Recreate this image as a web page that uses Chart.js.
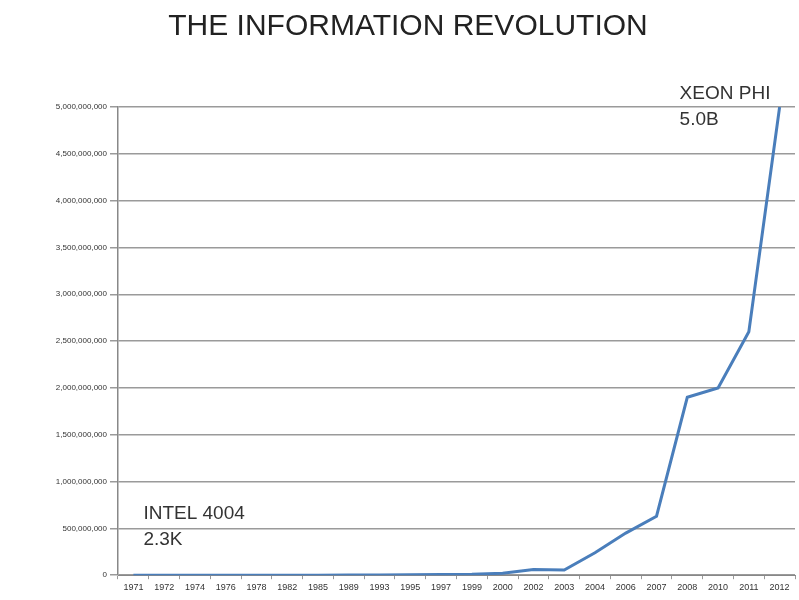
<!DOCTYPE html>
<html>
<head>
<meta charset="utf-8">
<script src="https://cdn.jsdelivr.net/npm/chart.js@4/dist/chart.umd.min.js"></script>
<style>
  body { margin: 0; background: #fff; }
  #wrap { width: 799px; height: 600px; }
</style>
</head>
<body>
<div id="wrap"><canvas id="transistorChart" width="799" height="600"></canvas></div>
<script>
const years = [
    '1971', '1972', '1974', '1976', '1978', '1982', '1985', '1989',
    '1993', '1995', '1997', '1999', '2000', '2002', '2003', '2004',
    '2006', '2007', '2008', '2010', '2011', '2012'
];

// transistor count per chip
const transistors = [
    2300, 3500, 4500, 6500, 29000, 134000, 275000, 1200000,
    3100000, 5500000, 7500000, 9500000, 20000000, 60000000, 55000000, 240000000,
    450000000, 630000000, 1900000000, 2000000000, 2600000000, 5000000000
];

const yTicks = {
    min: 0,
    max: 5000000000,
    step: 500000000
};

// callouts for the first and last chip
const callouts = [
    { index: 0, lines: ['INTEL 4004', '2.3K'], dx: 10, dy: -71 },
    { index: 21, lines: ['XEON PHI', '5.0B'], dx: -100, dy: -23 }
];

const calloutPlugin = {
    id: 'callouts',
    afterDatasetsDraw(chart) {
        const ctx = chart.ctx;
        const x = chart.scales.x;
        const y = chart.scales.y;
        ctx.save();
        ctx.font = '19px "Liberation Sans", Arial, sans-serif';
        ctx.fillStyle = '#333';
        ctx.textBaseline = 'top';
        ctx.textAlign = 'left';
        callouts.forEach(c => {
            const px = x.getPixelForValue(c.index) + c.dx;
            const py = y.getPixelForValue(transistors[c.index]) + c.dy;
            c.lines.forEach((t, i) => ctx.fillText(t, px, py + i * 26));
        });
        ctx.restore();
    }
};

const data = {
    labels: years,
    datasets: [{
        label: 'Transistors',
        data: transistors,
        borderColor: '#4a7ebb',
        backgroundColor: '#4a7ebb',
        borderWidth: 3,
        pointRadius: 0,
        tension: 0
    }]
};

const config = {
    type: 'line',
    data: data,
    options: {
        responsive: false,
        animation: false,
        layout: {
            padding: { left: 21, right: 4, top: 9, bottom: 4 }
        },
        plugins: {
            legend: { display: false },
            tooltip: { enabled: false },
            title: {
                display: true,
                text: 'THE INFORMATION REVOLUTION',
                color: '#222',
                font: { family: '"Liberation Sans", Arial, sans-serif', size: 30, weight: 'normal' },
                padding: { top: 0, bottom: 62 }
            }
        },
        scales: {
            x: {
                offset: true,
                grid: {
                    offset: true,
                    drawOnChartArea: false,
                    drawTicks: true,
                    tickLength: 4,
                    color: '#999'
                },
                border: { color: '#888' },
                ticks: {
                    maxRotation: 0,
                    autoSkip: false,
                    color: '#333',
                    padding: 3,
                    font: { family: '"Liberation Sans", Arial, sans-serif', size: 9 }
                }
            },
            y: {
                min: yTicks.min,
                max: yTicks.max,
                afterFit(scale) { scale.width = 97; },
                grid: {
                    color: '#9a9a9a',
                    lineWidth: 1.5,
                    tickLength: 8
                },
                border: { color: '#888', width: 1.5 },
                ticks: {
                    stepSize: yTicks.step,
                    color: '#333',
                    padding: 3,
                    font: { family: '"Liberation Sans", Arial, sans-serif', size: 8 }
                }
            }
        }
    },
    plugins: [calloutPlugin]
};

const transistorChart = new Chart(
    document.getElementById('transistorChart'),
    config
);
</script>
</body>
</html>
